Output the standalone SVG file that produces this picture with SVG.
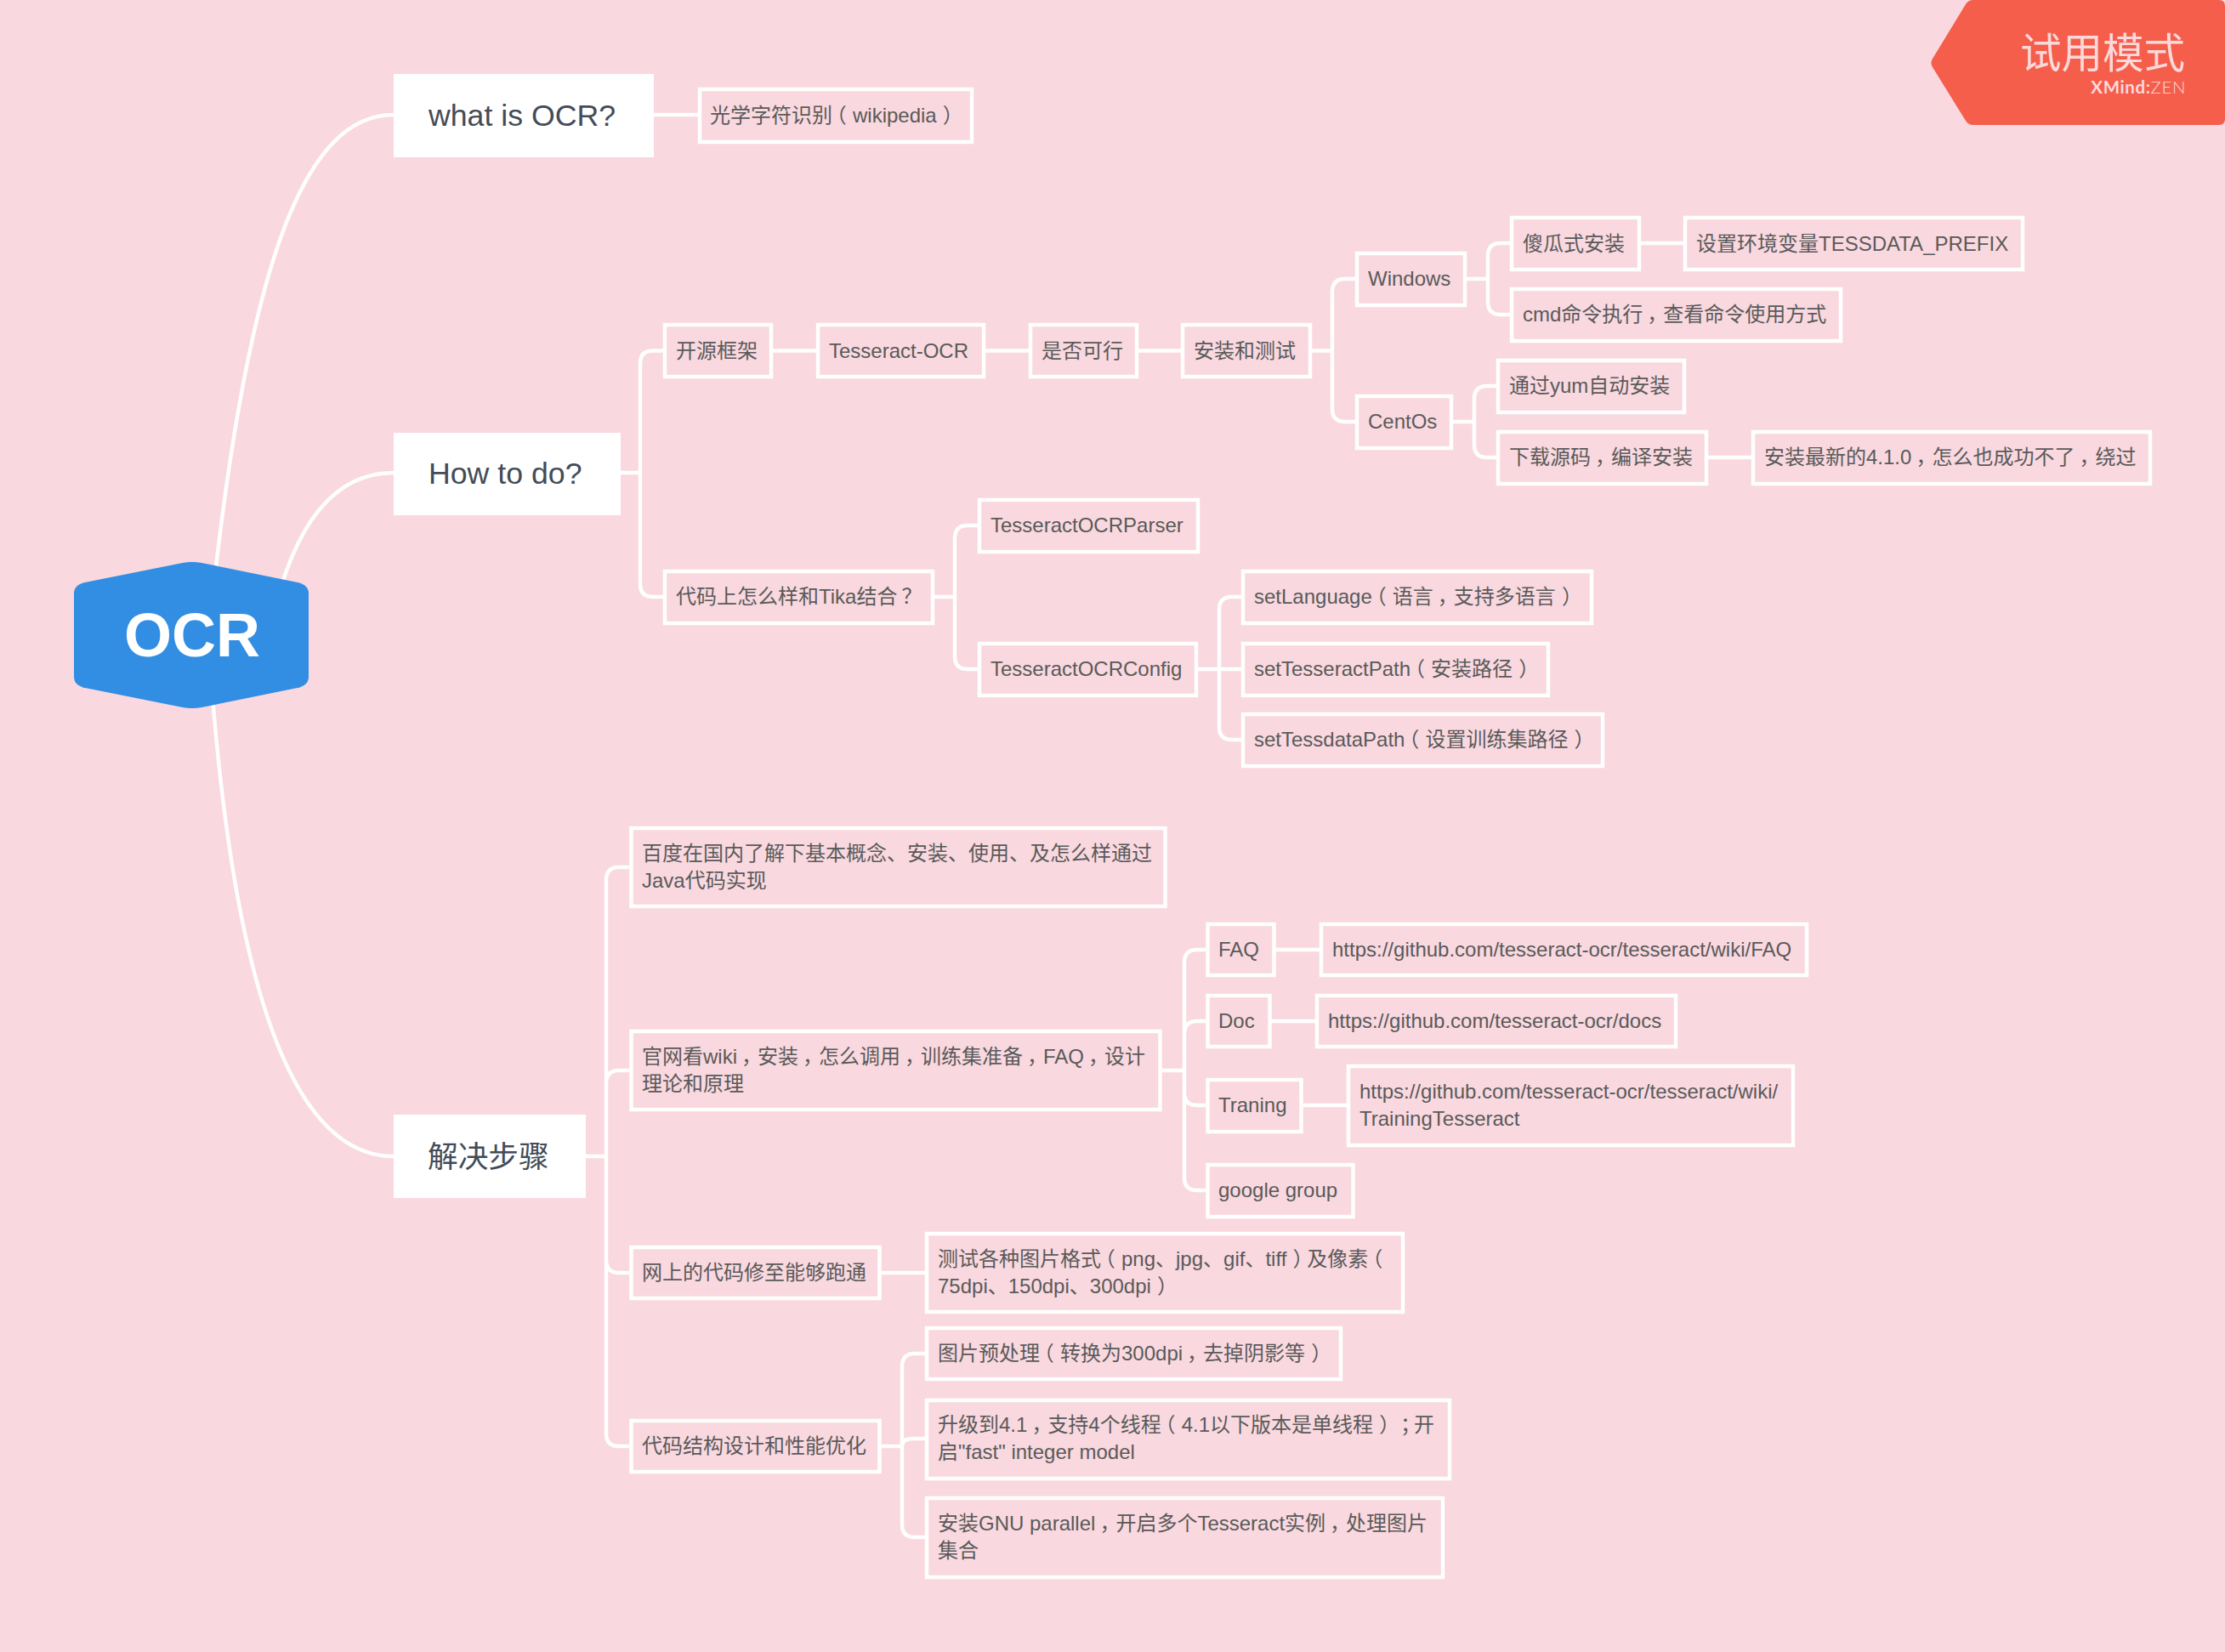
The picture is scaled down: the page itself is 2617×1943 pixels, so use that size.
<svg xmlns="http://www.w3.org/2000/svg" width="2617" height="1943" viewBox="0 0 2617 1943">
<style>
text{font-family:"Liberation Sans","Noto Sans CJK SC",sans-serif}
.b{fill:none;stroke:#fff;stroke-width:4.5}
.m{fill:#fff}
.t{font-size:24px;fill:#5a5a5a}
.h{font-size:35.7px;fill:#434c58}
.c{fill:none;stroke:#fff;stroke-width:4.5}
.p{font-feature-settings:"palt"}
</style>
<rect width="2617" height="1943" fill="#f9d8df"/>
<g id="connectors" class="c">
<path d="M245 750C290 300 360 135 463 135"/>
<path d="M320 730C345 620 390 556 463 556"/>
<path d="M245 750C272 1180 350 1360 463 1360"/>
<path d="M769 135H821"/>
<path d="M730 556H753M753 556V427Q753 412.500 768 412.500H780M753 556V687Q753 702 768 702H780"/>
<path d="M909 412.500H960M1159 412.500H1210M1339 412.500H1389M1543 412.500H1567"/>
<path d="M1567 412.500V343Q1567 328 1582 328H1594M1567 412.500V481Q1567 496 1582 496H1594"/>
<path d="M1725 328H1750M1750 328V301Q1750 286 1765 286H1776M1750 328V355Q1750 370 1765 370H1776M1930 286H1980"/>
<path d="M1709 496H1734M1734 496V469Q1734 454 1749 454H1760M1734 496V523Q1734 538 1749 538H1760M2009 538H2060"/>
<path d="M1099 702H1123M1123 702V633Q1123 618 1138 618H1150M1123 702V772Q1123 787 1138 787H1150"/>
<path d="M1409 787H1460M1434 787V717Q1434 702 1449 702H1460M1434 787V855Q1434 870 1449 870H1460"/>
<path d="M689 1360H713M713 1360V1035Q713 1020 728 1020H740M713 1360V1274Q713 1259 728 1259H740M713 1360V1482Q713 1497 728 1497H740M713 1360V1686Q713 1701 728 1701H740"/>
<path d="M1367 1259H1393M1393 1259V1132Q1393 1117 1408 1117H1418M1393 1259V1216Q1393 1201 1408 1201H1418M1393 1259V1285Q1393 1300 1408 1300H1418M1393 1259V1385Q1393 1400 1408 1400H1418"/>
<path d="M1501 1117H1552M1495 1201H1547M1533 1300H1584M1037 1497H1088"/>
<path d="M1037 1701H1061M1061 1701V1607Q1061 1592 1076 1592H1088M1061 1701Q1061 1692 1074 1692H1088M1061 1701V1793Q1061 1808 1076 1808H1088"/>
</g>
<g id="root"><path d="M100 685L215 662Q226 660 237 662L350 685Q363 688 363 698V796Q363 806 350 809L237 832Q226 834 215 832L100 809Q87 806 87 796V698Q87 688 100 685Z" fill="#318ee3"/><text x="226" y="772" text-anchor="middle" font-size="72" font-weight="700" fill="#fff">OCR</text></g>
<g id="n-what"><rect class="m" x="463" y="87" width="306" height="98"/><text class="h" x="504" y="148">what is OCR?</text></g>
<g id="n-how"><rect class="m" x="463" y="509" width="267" height="97"/><text class="h" x="504" y="569">How to do?</text></g>
<g id="n-steps"><rect class="m" x="463" y="1311" width="226" height="98"/><text class="h" x="503" y="1373">解决步骤</text></g>
<g id="n1"><rect class="b" x="823" y="105" width="320" height="62"/><text class="t" x="835" y="144">光学字符识别<tspan class="p" dx="4">（</tspan><tspan dx="8">wikipedia</tspan><tspan class="p" dx="8">）</tspan></text></g>
<g id="n2"><rect class="b" x="782" y="382" width="125" height="61"/><text class="t" x="795" y="420.500">开源框架</text></g>
<g id="n3"><rect class="b" x="962" y="382" width="195" height="61"/><text class="t" x="975" y="420.500">Tesseract-OCR</text></g>
<g id="n4"><rect class="b" x="1212" y="382" width="125" height="61"/><text class="t" x="1225" y="420.500">是否可行</text></g>
<g id="n5"><rect class="b" x="1391" y="382" width="150" height="61"/><text class="t" x="1404" y="420.500">安装和测试</text></g>
<g id="n6"><rect class="b" x="1596" y="298" width="127" height="61"/><text class="t" x="1609" y="336">Windows</text></g>
<g id="n7"><rect class="b" x="1778" y="256" width="150" height="61"/><text class="t" x="1791" y="295">傻瓜式安装</text></g>
<g id="n8"><rect class="b" x="1982" y="256" width="397" height="61"/><text class="t" x="1995" y="295">设置环境变量TESSDATA_PREFIX</text></g>
<g id="n9"><rect class="b" x="1778" y="340" width="387" height="61"/><text class="t" x="1791" y="378">cmd命令执行<tspan dx="5">，</tspan><tspan dx="-5">查看命令使用方式</tspan></text></g>
<g id="n10"><rect class="b" x="1596" y="466" width="111" height="61"/><text class="t" x="1609" y="504">CentOs</text></g>
<g id="n11"><rect class="b" x="1762" y="424" width="219" height="61"/><text class="t" x="1775" y="462">通过yum自动安装</text></g>
<g id="n12"><rect class="b" x="1762" y="508" width="245" height="61"/><text class="t" x="1775" y="546">下载源码<tspan dx="5">，</tspan><tspan dx="-5">编译安装</tspan></text></g>
<g id="n13"><rect class="b" x="2062" y="508" width="467" height="61"/><text class="t" x="2075" y="546">安装最新的4.1.0<tspan dx="5">，</tspan><tspan dx="-5">怎么也成功不了</tspan><tspan dx="5">，</tspan><tspan dx="-5">绕过</tspan></text></g>
<g id="n14"><rect class="b" x="782" y="672" width="315" height="61"/><text class="t" x="795" y="710">代码上怎么样和Tika结合<tspan dx="5">？</tspan></text></g>
<g id="n15"><rect class="b" x="1152" y="588" width="257" height="61"/><text class="t" x="1165" y="626">TesseractOCRParser</text></g>
<g id="n16"><rect class="b" x="1152" y="757" width="255" height="61"/><text class="t" x="1165" y="795">TesseractOCRConfig</text></g>
<g id="n17"><rect class="b" x="1462" y="672" width="410" height="61"/><text class="t" x="1475" y="710">setLanguage<tspan class="p" dx="4">（</tspan><tspan dx="8">语言</tspan><tspan dx="5">，</tspan><tspan dx="-5">支持多语言</tspan><tspan class="p" dx="8">）</tspan></text></g>
<g id="n18"><rect class="b" x="1462" y="757" width="359" height="61"/><text class="t" x="1475" y="795">setTesseractPath<tspan class="p" dx="4">（</tspan><tspan dx="8">安装路径</tspan><tspan class="p" dx="8">）</tspan></text></g>
<g id="n19"><rect class="b" x="1462" y="840" width="423" height="61"/><text class="t" x="1475" y="878">setTessdataPath<tspan class="p" dx="4">（</tspan><tspan dx="8">设置训练集路径</tspan><tspan class="p" dx="8">）</tspan></text></g>
<g id="n20"><rect class="b" x="742.500" y="974" width="628" height="92"/><text class="t" x="755" y="1012">百度在国内了解下基本概念、安装、使用、及怎么样通过</text><text class="t" x="755" y="1044">Java代码实现</text></g>
<g id="n21"><rect class="b" x="742.500" y="1213" width="622" height="92"/><text class="t" x="755" y="1251">官网看wiki<tspan dx="5">，</tspan><tspan dx="-5">安装</tspan><tspan dx="5">，</tspan><tspan dx="-5">怎么调用</tspan><tspan dx="5">，</tspan><tspan dx="-5">训练集准备</tspan><tspan dx="5">，</tspan><tspan dx="-5">FAQ</tspan><tspan dx="5">，</tspan><tspan dx="-5">设计</tspan></text><text class="t" x="755" y="1283">理论和原理</text></g>
<g id="n22"><rect class="b" x="742.500" y="1467" width="292" height="60"/><text class="t" x="755" y="1505">网上的代码修至能够跑通</text></g>
<g id="n23"><rect class="b" x="742.500" y="1671" width="292" height="60"/><text class="t" x="755" y="1709">代码结构设计和性能优化</text></g>
<g id="n24"><rect class="b" x="1420.500" y="1087" width="78" height="60"/><text class="t" x="1433" y="1125">FAQ</text></g>
<g id="n25"><rect class="b" x="1554" y="1087" width="571" height="60"/><text class="t" x="1567" y="1125">https://github.com/tesseract-ocr/tesseract/wiki/FAQ</text></g>
<g id="n26"><rect class="b" x="1420.500" y="1171" width="73" height="60"/><text class="t" x="1433" y="1209">Doc</text></g>
<g id="n27"><rect class="b" x="1549" y="1171" width="422" height="60"/><text class="t" x="1562" y="1209">https://github.com/tesseract-ocr/docs</text></g>
<g id="n28"><rect class="b" x="1420.500" y="1270" width="110" height="61"/><text class="t" x="1433" y="1308">Traning</text></g>
<g id="n29"><rect class="b" x="1586" y="1254" width="523" height="93"/><text class="t" x="1599" y="1292">https://github.com/tesseract-ocr/tesseract/wiki/</text><text class="t" x="1599" y="1324">TrainingTesseract</text></g>
<g id="n30"><rect class="b" x="1420.500" y="1370" width="171" height="61"/><text class="t" x="1433" y="1408">google group</text></g>
<g id="n31"><rect class="b" x="1090" y="1451" width="560" height="92"/><text class="t" x="1103" y="1489">测试各种图片格式<tspan class="p" dx="4">（</tspan><tspan dx="8">png、jpg、gif、tiff</tspan><tspan class="p" dx="8">）</tspan><tspan dx="4">及像素</tspan><tspan class="p" dx="4">（</tspan></text><text class="t" x="1103" y="1521">75dpi、150dpi、300dpi<tspan class="p" dx="8">）</tspan></text></g>
<g id="n32"><rect class="b" x="1090" y="1562" width="487" height="60"/><text class="t" x="1103" y="1600">图片预处理<tspan class="p" dx="4">（</tspan><tspan dx="8">转换为300dpi</tspan><tspan dx="5">，</tspan><tspan dx="-5">去掉阴影等</tspan><tspan class="p" dx="8">）</tspan></text></g>
<g id="n33"><rect class="b" x="1090" y="1647" width="615" height="92"/><text class="t" x="1103" y="1684">升级到4.1<tspan dx="5">，</tspan><tspan dx="-5">支持4个线程</tspan><tspan class="p" dx="4">（</tspan><tspan dx="8">4.1以下版本是单线程</tspan><tspan class="p" dx="8">）</tspan><tspan class="p" dx="12">；</tspan><tspan dx="4">开</tspan></text><text class="t" x="1103" y="1716">启"fast" integer model</text></g>
<g id="n34"><rect class="b" x="1090" y="1762" width="607" height="93"/><text class="t" x="1103" y="1800">安装GNU parallel<tspan dx="5">，</tspan><tspan dx="-5">开启多个Tesseract实例</tspan><tspan dx="5">，</tspan><tspan dx="-5">处理图片</tspan></text><text class="t" x="1103" y="1832">集合</text></g>
<g id="badge"><path d="M2321 0H2610Q2617 0 2617 7V140Q2617 147 2610 147H2321Q2315 147 2312 142L2273 79Q2270 74 2273 69L2312 5Q2315 0 2321 0Z" fill="#f55e4b"/><text x="2570" y="80" text-anchor="end" font-size="48.500" fill="#fcd8da">试用模式</text><text x="2571" y="110" text-anchor="end" font-size="20.500" letter-spacing="0.6" style="font-family:Lato,sans-serif" fill="#fcd8da"><tspan font-weight="700">XMind:</tspan><tspan font-weight="300">ZEN</tspan></text></g>
</svg>
